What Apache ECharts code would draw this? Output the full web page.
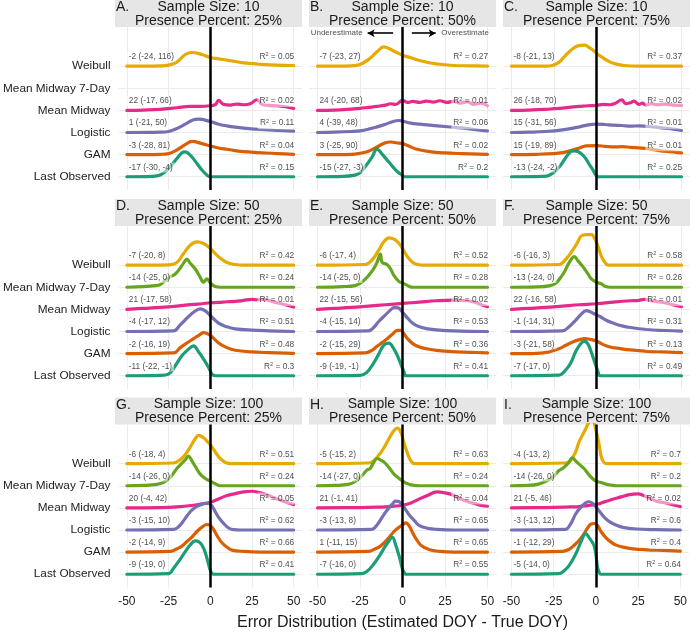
<!DOCTYPE html>
<html><head><meta charset="utf-8">
<script src="https://cdn.jsdelivr.net/npm/echarts@6/dist/echarts.min.js"></script>
<style>html,body{margin:0;padding:0;background:#fff}#c{width:690px;height:632px}</style>
</head><body><div id="c"></div>
<script>
// ---- categories / ticks ----
const methods = ['Last Observed','GAM','Logistic','Mean Midway','Mean Midway 7-Day','Weibull'];
const methodColors = ['#1B9E77','#D95F02','#7570B3','#E7298A','#66A61E','#E6AB02'];
const xTicks = [-50,-25,0,25,50];
const yTicks = [0,1,2,3,4,5];
const panelLetters = ['A.','B.','C.','D.','E.','F.','G.','H.','I.'];
const sampleSizes = [10,10,10,50,50,50,100,100,100];
const presencePercents = ['25%','50%','75%','25%','50%','75%','25%','50%','75%'];

// ---- density curves: flat [x, relative height, ...] ----
const A_lo  = [-50,0,-35,1,-30,5,-25,25,-20,55,-17,72,-15,75,-12,65,-8,40,-5,20,-2,5,0,0,50,0];
const A_gam = [-50,0,-30,1,-25,3,-20,14,-15,30,-11,40,-5,33,0,26,5,20,10,16,15,12,20,9,30,6,40,3,50,1];
const A_lg  = [-50,0,-30,1,-25,3,-20,12,-15,25,-10,38,-7,40,0,33,5,25,10,20,15,16,20,13,30,9,40,6,50,4];
const A_mm  = [-50,0,-40,1,-30,3,-20,8,-12,12,-6,12,0,14,3,17,5,30,8,18,12,16,16,19,20,17,24,20,28,32,31,18,35,15,40,14,45,11,48,8,50,6];
const A_wb  = [-50,0,-30,1,-25,3,-20,12,-15,35,-11,41,-5,35,0,26,5,22,10,18,15,14,20,10,30,6,40,3,50,2];

const B_lo  = [-50,0,-35,1,-28,5,-25,12,-22,30,-18,58,-15,83,-12,68,-9,50,-6,32,-3,15,0,4,1,0,50,0];
const B_gam = [-50,0,-30,1,-25,4,-20,10,-15,23,-10,36,-7,38,-3,35,0,33,4,25,8,17,16,9,25,5,35,3,50,1];
const B_lg  = [-50,0,-40,1,-30,3,-25,5,-20,10,-15,17,-10,25,-5,34,-2,36,0,34,5,28,10,25,16,22,25,18,34,14,42,9,50,5];
const B_mm  = [-50,0,-40,1,-30,4,-25,6,-20,9,-15,12,-10,16,-7,20,-4,18,0,30,3,24,6,27,10,24,14,28,18,25,22,29,26,24,30,27,34,22,38,26,42,18,46,22,50,14];
const B_wb  = [-50,0,-30,1,-25,5,-20,20,-15,43,-11,58,-5,45,0,33,5,25,10,17,15,11,20,7,30,2,40,1,50,0];

const C_lo  = [-50,0,-32,1,-28,4,-24,18,-21,35,-18,58,-15,76,-13,78,-11,76,-8,65,-6,52,-4,35,-2,20,-1,10,1,0,50,0];
const C_gam = [-50,0,-35,1,-25,3,-20,6,-15,12,-10,20,-6,26,0,27,5,25,10,23,15,24,20,22,25,20,30,18,37,12,45,8,50,5];
const C_lg  = [-50,0,-40,1,-30,3,-20,8,-10,17,-5,23,0,25,5,24,10,22,15,21,20,19,25,20,30,18,35,16,40,13,45,10,50,6];
const C_mm  = [-50,0,-40,1,-30,3,-25,5,-20,7,-15,10,-10,12,-5,14,0,15,4,18,8,17,11,21,15,32,17,20,20,23,22,28,25,18,27,22,29,16,32,20,36,17,40,19,45,16,50,15];
const C_wb  = [-50,0,-30,0,-26,2,-22,12,-19,28,-15,48,-11,61,-7,63,-4,55,-2,48,0,38,3,28,6,18,9,10,12,6,16,2,25,0,50,0];

const D_lo  = [-50,0,-30,1,-25,5,-21,30,-17,60,-13,80,-10,90,-7,72,-4,50,-1,25,1,5,3,0,50,0];
const D_gam = [-50,0,-22,2,-18,18,-14,32,-10,45,-6,58,-4,63,0,55,5,32,10,18,15,10,25,5,35,3,50,1];
const D_lg  = [-50,0,-22,2,-18,20,-14,40,-10,58,-6,68,-3,62,0,48,5,25,10,14,15,8,25,4,35,2,50,0];
const D_mm  = [-50,0,-40,3,-30,6,-20,10,-10,15,-5,17,0,20,5,21,10,23,15,24,20,27,25,30,28,29,32,30,35,27,40,20,45,14,50,7];
const D_7d  = [-50,0,-40,2,-33,5,-30,8,-27,20,-24,32,-21,40,-18,58,-15,80,-14,85,-12,72,-9,55,-6,30,-4,15,-2,25,0,13,3,2,6,0,50,0];
const D_wb  = [-50,0,-25,1,-20,8,-16,35,-12,60,-8,70,-4,65,0,50,5,25,10,8,15,2,20,0,50,0];

const E_lo  = [-50,0,-25,1,-21,10,-17,38,-14,65,-11,92,-8,98,-5,80,-3,60,-1,35,1,10,2,0,50,0];
const E_gam = [-50,0,-22,2,-18,10,-15,22,-12,33,-9,45,-6,58,-3,70,-1,70,0,66,3,45,6,30,10,20,15,14,20,10,30,6,40,4,50,2];
const E_lg  = [-50,0,-20,2,-17,12,-14,30,-10,50,-7,65,-5,72,-3,72,0,58,3,40,6,25,10,14,15,8,20,5,30,2,50,0];
const E_mm  = [-50,0,-40,3,-30,6,-20,10,-10,14,0,18,10,22,20,26,30,28,38,26,42,22,46,15,50,8];
const E_7d  = [-50,0,-35,2,-28,5,-24,15,-20,35,-17,55,-15,75,-13,100,-12,75,-9,68,-7,55,-5,35,-2,17,0,13,3,5,6,0,50,0];
const E_wb  = [-50,0,-22,2,-18,15,-14,45,-11,70,-8,82,-5,78,-2,65,0,50,3,25,6,8,9,2,12,0,50,0];

const F_lo  = [-50,0,-22,2,-18,18,-15,40,-12,75,-9,98,-7,103,-5,95,-3,70,-1,40,1,10,2,0,50,0];
const F_gam = [-50,0,-35,1,-28,5,-22,15,-18,25,-14,35,-10,42,-7,45,-3,42,0,38,4,27,8,20,14,15,20,11,30,7,40,5,50,3];
const F_lg  = [-50,0,-20,2,-16,15,-12,35,-9,52,-6,63,-4,60,-2,55,2,45,6,33,10,25,15,17,20,12,30,6,40,3,50,1];
const F_mm  = [-50,0,-40,3,-30,6,-20,10,-10,14,0,17,10,22,20,26,25,27,28,30,32,26,40,20,45,14,50,8];
const F_7d  = [-50,0,-35,1,-28,4,-24,12,-21,30,-19,45,-16,75,-13,92,-11,80,-8,62,-5,40,-3,25,0,15,3,10,5,3,8,0,50,0];
const F_wb  = [-50,0,-22,2,-18,18,-14,45,-11,70,-9,88,-6,92,-3,92,-1,80,1,55,3,25,5,8,7,0,50,0];

const G_lo  = [-50,0,-25,2,-22,18,-18,45,-15,68,-12,88,-9,100,-7,98,-5,88,-3,65,-1,30,0,12,1,3,2,0,50,0];
const G_gam = [-50,0,-24,2,-20,10,-17,18,-14,32,-11,45,-8,62,-5,75,-2,83,0,80,2,68,4,50,7,28,10,15,13,6,20,2,30,0,50,0];
const G_lg  = [-50,0,-22,2,-18,15,-15,35,-12,55,-9,68,-6,75,-3,80,-1,80,1,72,3,55,5,38,8,20,11,6,14,1,18,0,50,0];
const G_mm  = [-50,0,-30,1,-20,3,-10,8,-5,12,0,17,5,27,10,37,15,43,20,48,25,50,30,45,35,37,40,27,45,18,50,10];
const G_7d  = [-50,0,-40,1,-32,4,-28,10,-24,25,-20,52,-17,68,-15,78,-13,89,-11,75,-9,58,-6,35,-3,22,0,14,3,6,6,0,50,0];
const G_wb  = [-50,0,-22,2,-18,12,-15,27,-12,50,-9,75,-7,85,-4,78,-2,68,0,57,3,35,6,15,9,4,12,0,50,0];

const H_lo  = [-50,0,-24,2,-21,8,-17,30,-13,60,-10,85,-8,100,-6,112,-4,88,-2,55,0,15,1,5,2,0,50,0];
const H_gam = [-50,0,-20,2,-16,10,-13,18,-9,38,-5,62,-2,75,0,82,2,88,4,78,6,58,8,40,11,20,16,7,22,2,30,0,50,0];
const H_lg  = [-50,0,-18,2,-15,15,-12,38,-9,60,-6,78,-4,87,-2,85,0,75,2,60,4,45,7,28,10,13,15,5,20,2,30,0,50,0];
const H_mm  = [-50,0,-25,1,-15,2,-10,3,-5,5,0,8,5,15,10,27,15,38,20,48,25,45,30,38,35,25,40,16,45,9,50,5];
const H_7d  = [-50,0,-40,1,-32,4,-28,12,-24,30,-21,47,-19,52,-17,70,-15,82,-13,78,-11,72,-8,55,-5,35,-2,22,0,14,3,6,6,2,10,0,50,0];
const H_wb  = [-50,0,-20,2,-17,8,-14,25,-11,47,-8,75,-5,100,-3,107,-1,95,1,60,3,30,5,8,7,0,50,0];

const I_lo  = [-50,0,-22,2,-19,10,-16,25,-12,60,-9,95,-6,122,-4,110,-2,95,-1,85,0,60,1,20,2,5,3,0,50,0];
const I_gam = [-50,0,-20,2,-16,8,-13,20,-10,35,-7,55,-5,72,-3,84,-1,86,1,80,3,62,6,43,9,30,12,21,16,15,22,10,30,7,40,5,50,3];
const I_lg  = [-50,0,-18,2,-15,18,-12,48,-9,68,-6,82,-4,85,-2,80,0,70,3,50,5,38,8,25,12,15,16,8,24,3,35,1,50,0];
const I_mm  = [-50,0,-30,1,-15,3,-10,4,-5,7,0,10,5,18,10,26,15,33,20,40,25,42,28,38,32,28,36,20,40,16,45,10,50,4];
const I_7d  = [-50,0,-40,1,-34,5,-29,15,-25,28,-22,45,-19,55,-16,70,-14,84,-12,75,-10,65,-7,52,-4,32,-2,22,0,14,3,10,6,5,9,2,12,0,50,0];
const I_wb  = [-50,0,-18,2,-15,10,-12,35,-10,65,-8,85,-6,105,-4,125,-2,130,0,100,1,80,2,55,3,25,4,10,6,0,50,0];

// ---- summary labels (order: LO, GAM, Logistic, MM, MM7, Weibull) ----
const A_med = ['-17 (-30, -4)','-3 (-28, 81)','1 (-21, 50)','22 (-17, 66)',null,'-2 (-24, 116)'];
const A_r2  = ['0.15','0.04','0.11','0.02',null,'0.05'];
const B_med = ['-15 (-27, -3)','3 (-25, 90)','4 (-39, 48)','24 (-20, 68)',null,'-7 (-23, 27)'];
const B_r2  = ['0.2','0.02','0.06','0.01',null,'0.27'];
const C_med = ['-13 (-24, -2)','15 (-19, 89)','15 (-31, 56)','26 (-18, 70)',null,'-8 (-21, 13)'];
const C_r2  = ['0.25','0.01','0.01','0.02',null,'0.37'];
const D_med = ['-11 (-22, -1)','-2 (-16, 19)','-4 (-17, 12)','21 (-17, 58)','-14 (-25, 0)','-7 (-20, 8)'];
const D_r2  = ['0.3','0.48','0.51','0.01','0.24','0.42'];
const E_med = ['-9 (-19, -1)','-2 (-15, 29)','-4 (-15, 14)','22 (-15, 56)','-14 (-25, 0)','-6 (-17, 4)'];
const E_r2  = ['0.41','0.36','0.53','0.02','0.28','0.52'];
const F_med = ['-7 (-17, 0)','-3 (-21, 58)','-1 (-14, 31)','22 (-16, 58)','-13 (-24, 0)','-6 (-16, 3)'];
const F_r2  = ['0.49','0.13','0.31','0.01','0.26','0.58'];
const G_med = ['-9 (-19, 0)','-2 (-14, 9)','-3 (-15, 10)','20 (-4, 42)','-14 (-26, 0)','-6 (-18, 4)'];
const G_r2  = ['0.41','0.66','0.62','0.05','0.24','0.51'];
const H_med = ['-7 (-16, 0)','1 (-11, 15)','-3 (-13, 8)','21 (-1, 41)','-14 (-27, 0)','-5 (-15, 2)'];
const H_r2  = ['0.55','0.65','0.65','0.04','0.24','0.63'];
const I_med = ['-5 (-14, 0)','-1 (-12, 29)','-3 (-13, 12)','21 (-5, 46)','-14 (-26, 0)','-4 (-13, 2)'];
const I_r2  = ['0.64','0.4','0.6','0.02','0.2','0.7'];

const panelCurves = [
  [A_lo,A_gam,A_lg,A_mm,null,A_wb],[B_lo,B_gam,B_lg,B_mm,null,B_wb],[C_lo,C_gam,C_lg,C_mm,null,C_wb],
  [D_lo,D_gam,D_lg,D_mm,D_7d,D_wb],[E_lo,E_gam,E_lg,E_mm,E_7d,E_wb],[F_lo,F_gam,F_lg,F_mm,F_7d,F_wb],
  [G_lo,G_gam,G_lg,G_mm,G_7d,G_wb],[H_lo,H_gam,H_lg,H_mm,H_7d,H_wb],[I_lo,I_gam,I_lg,I_mm,I_7d,I_wb]];
const panelMed = [A_med,B_med,C_med,D_med,E_med,F_med,G_med,H_med,I_med];
const panelR2  = [A_r2,B_r2,C_r2,D_r2,E_r2,F_r2,G_r2,H_r2,I_r2];

// ---- layout / style ----
const HSCALE = 1/66.5;
const LABEL_DY = 0.42;
const FONT = '"Liberation Sans", Arial, Helvetica, sans-serif';
const colLeft = [115, 309, 503];
const rowTop = [27, 226, 424.5];
const stripTop = [0, 199, 397.5];
const PW = 187, PH = 163, SH = 27;
const LBL = 8.3;

function pairs(flat){ const o=[]; for(let i=0;i<flat.length;i+=2) o.push([flat[i],flat[i+1]]); return o; }

const grid=[], xAxis=[], yAxis=[], series=[], graphic=[];
for (let gi=0; gi<9; gi++){
  const r=Math.floor(gi/3), c=gi%3;
  grid.push({left:colLeft[c], top:rowTop[r], width:PW, height:PH});
  xAxis.push({gridIndex:gi, type:'value', min:-55, max:55,
    axisLine:{show:false}, axisTick:{show:false, customValues:xTicks},
    axisLabel:{show:r===2, customValues:xTicks, fontSize:12, color:'#222', margin:8, fontFamily:FONT},
    splitLine:{show:true, lineStyle:{color:'#ebebeb', width:1}}});
  yAxis.push({gridIndex:gi, type:'value', min:-0.6, max:6.77,
    axisLine:{show:false}, axisTick:{show:false, customValues:yTicks},
    axisLabel:{show:c===0, customValues:yTicks, fontSize:11.8, color:'#222', margin:8, fontFamily:FONT,
      formatter:v=>methods[Math.round(v)]},
    splitLine:{show:true, lineStyle:{color:'#ebebeb', width:1}}});
  const curves = panelCurves[gi];
  for (let k=5;k>=0;k--){
    if(!curves[k]) continue;
    series.push({type:'line', xAxisIndex:gi, yAxisIndex:gi, silent:true, animation:false,
      data:pairs(curves[k]).map(([x,h])=>[x, k+h*HSCALE]),
      smooth:0.4, showSymbol:false, symbol:'none',
      lineStyle:{width:3.2, color:methodColors[k], cap:'round', join:'round'}, z:2});
  }
  series.push({type:'line', xAxisIndex:gi, yAxisIndex:gi, data:[], silent:true, animation:false, z:4,
    markLine:{silent:true, symbol:'none', animation:false, label:{show:false},
      lineStyle:{color:'#000', width:2.5, type:'solid'}, data:[{xAxis:0}]}});
  const med=[], r2=[];
  for (let k=0;k<6;k++){
    if(panelMed[gi][k]) med.push([-50, k+LABEL_DY, panelMed[gi][k]]);
    if(panelR2[gi][k]) r2.push([51.5, k+LABEL_DY, panelR2[gi][k]]);
  }
  const boxStyle = {backgroundColor:'rgba(255,255,255,0.65)', padding:[1,2]};
  series.push({type:'scatter', xAxisIndex:gi, yAxisIndex:gi, data:med, symbolSize:0, silent:true, animation:false, z:6,
    label:Object.assign({show:true, position:'inside', align:'left', verticalAlign:'middle',
      fontSize:LBL, color:'#1a1a1a', fontFamily:FONT, formatter:p=>p.data[2]}, boxStyle)});
  series.push({type:'scatter', xAxisIndex:gi, yAxisIndex:gi, data:r2, symbolSize:0, silent:true, animation:false, z:6,
    label:Object.assign({show:true, position:'inside', align:'right', verticalAlign:'middle',
      formatter:p=>'{r|R}{s|2}{r| = '+p.data[2]+'}',
      rich:{r:{fontSize:LBL, lineHeight:10, color:'#1a1a1a', fontFamily:FONT},
            s:{fontSize:5.6, lineHeight:6, verticalAlign:'top', color:'#1a1a1a', fontFamily:FONT}}}, boxStyle)});
  // strip
  graphic.push({type:'rect', left:colLeft[c], top:stripTop[r], shape:{width:PW, height:SH}, style:{fill:'#e6e6e6'}, silent:true});
  graphic.push({type:'text', x:colLeft[c]+PW/2, y:stripTop[r]+SH/2+0.5, silent:true,
    style:{text:'Sample Size: '+sampleSizes[gi]+'\nPresence Percent: '+presencePercents[gi],
      font:'14px '+FONT, fill:'#1a1a1a', align:'center', verticalAlign:'middle', lineHeight:14}});
  graphic.push({type:'text', x:colLeft[c]+1, y:stripTop[r]+7.2, silent:true,
    style:{text:panelLetters[gi], font:'14px '+FONT, fill:'#1a1a1a', align:'left', verticalAlign:'middle'}});
}
// direction annotation in panel B
const arrowY = 6.49;
const dirLabels = [[-23.4, arrowY, 'Underestimate', 'right'], [22.8, arrowY, 'Overestimate', 'left']];
series.push({type:'scatter', xAxisIndex:1, yAxisIndex:1, symbolSize:0, silent:true, animation:false, z:6,
  data:dirLabels.map(d=>({value:[d[0],d[1]], label:{align:d[3], formatter:d[2]}})),
  label:{show:true, position:'inside', verticalAlign:'middle', fontSize:8, color:'#1a1a1a', fontFamily:FONT},
  markLine:{silent:true, animation:false, symbol:['none','arrow'], symbolSize:[6,7], label:{show:false},
    lineStyle:{color:'#000', width:1.6, type:'solid'},
    data:[[{coord:[-5.5,arrowY]},{coord:[-20.5,arrowY]}],[{coord:[5.5,arrowY]},{coord:[19.5,arrowY]}]]}});

graphic.push({type:'text', x:402.5, y:623, silent:true,
  style:{text:'Error Distribution (Estimated DOY - True DOY)', font:'16px '+FONT, fill:'#1a1a1a', align:'center', verticalAlign:'middle'}});

const chart = echarts.init(document.getElementById('c'), null, {renderer:'canvas'});
chart.setOption({animation:false, backgroundColor:'#fff', textStyle:{fontFamily:FONT},
  grid, xAxis, yAxis, series, graphic});
</script></body></html>
